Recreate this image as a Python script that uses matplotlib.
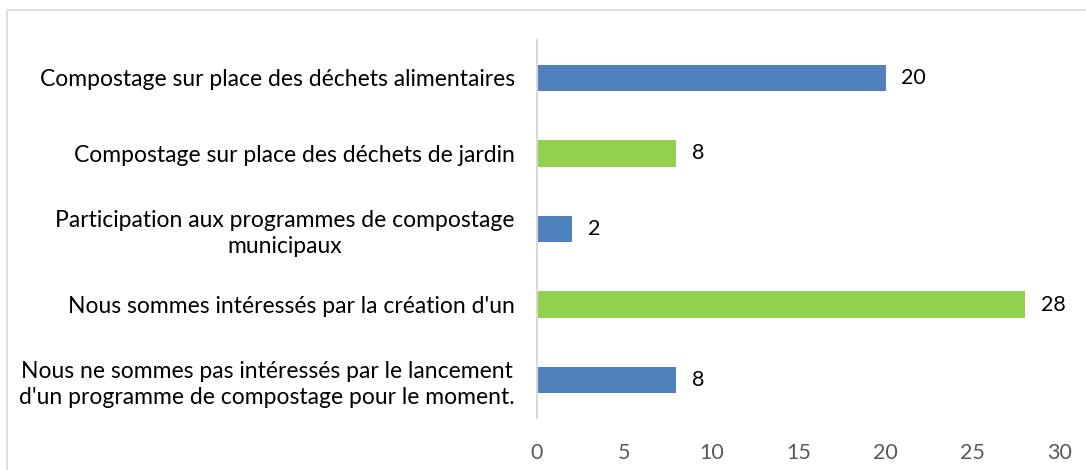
import matplotlib.pyplot as plt
from matplotlib.patches import Rectangle

categories = [
    "Compostage sur place des déchets alimentaires",
    "Compostage sur place des déchets de jardin",
    "Participation aux programmes de compostage\nmunicipaux",
    "Nous sommes intéressés par la création d'un",
    "Nous ne sommes pas intéressés par le lancement\nd'un programme de compostage pour le moment.",
]
values = [20, 8, 2, 28, 8]
colors = ["#4F81BD", "#92D050", "#4F81BD", "#92D050", "#4F81BD"]
xticks = [0, 5, 10, 15, 20, 25, 30]

plt.rcParams['font.family'] = ['Lato', 'DejaVu Sans']

fig = plt.figure(figsize=(10.86, 4.70), dpi=100)
ax = fig.add_axes([0.4945, 0.1106, 0.4815, 0.8044])

# cadre gris autour du graphique
fig.patches.append(Rectangle((7 / 1086, -0.05), 1.2, 1 - 10 / 470 + 0.05,
                             transform=fig.transFigure, fill=False,
                             edgecolor="#D9D9D9", linewidth=1.2))

pos = list(range(len(categories)))
ax.barh(pos, values, height=0.35, color=colors)
for p, v in zip(pos, values):
    ax.text(v + 0.9, p, str(v), va="center", ha="left", fontsize=15.5, color="black")

ax.set_yticks(pos)
ax.set_yticklabels(categories, fontsize=16.5, ha="right", multialignment="center",
                   linespacing=1.3)
ax.set_ylim(len(categories) - 0.5, -0.5)
ax.set_xlim(0, 30)
ax.set_xticks(xticks)
ax.tick_params(axis="x", length=0, labelsize=15.5, labelcolor="#595959", pad=18)
ax.tick_params(axis="y", length=0, pad=16)

for s in ["top", "right", "bottom"]:
    ax.spines[s].set_visible(False)
ax.spines["left"].set_color("#D9D9D9")
ax.spines["left"].set_linewidth(1.5)

fig.savefig("out.png", dpi=100)
